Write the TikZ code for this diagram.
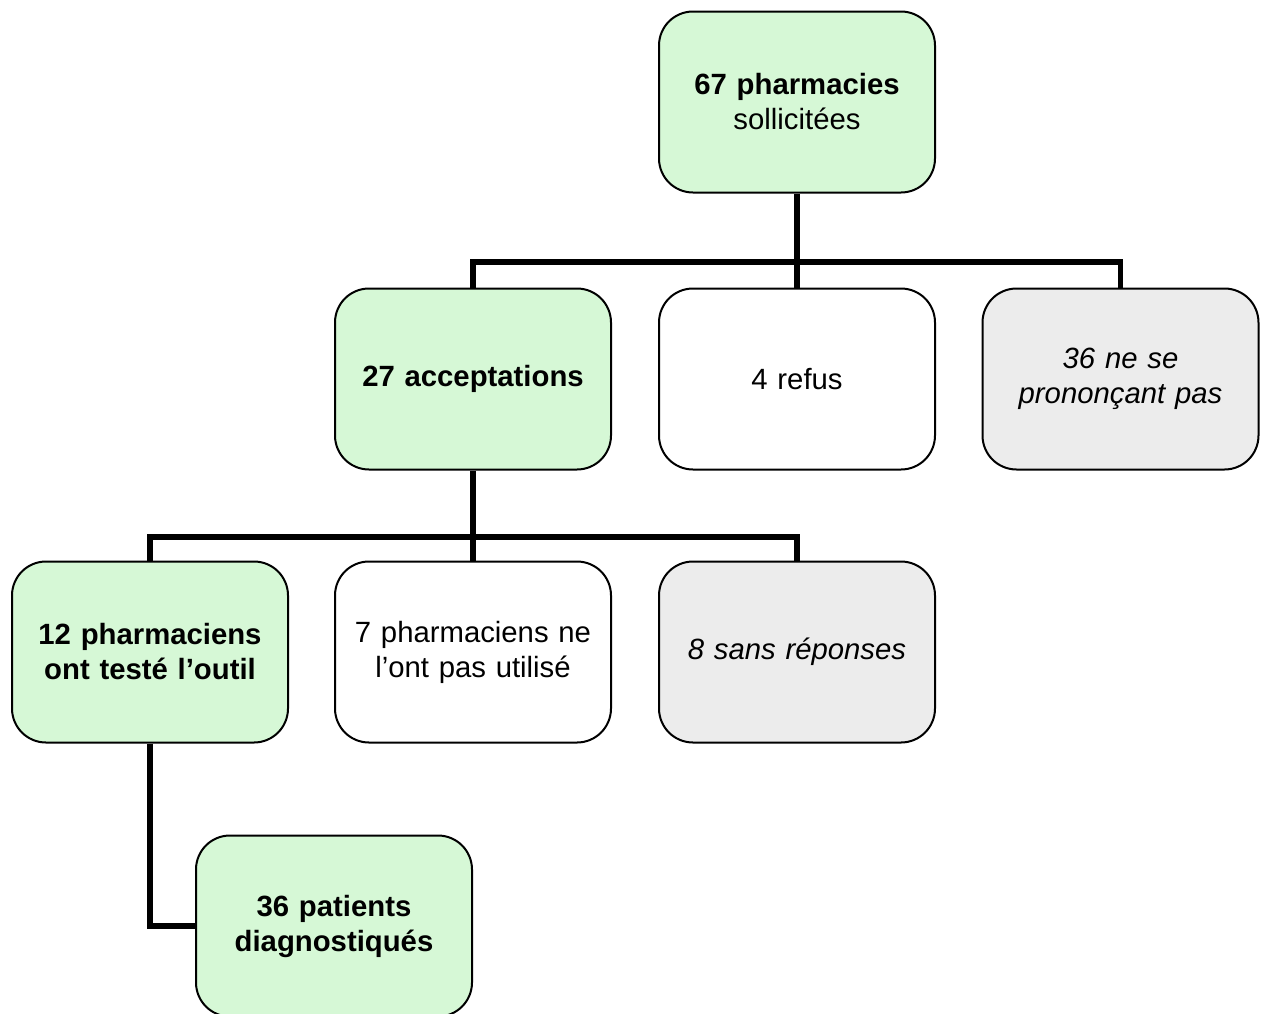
\documentclass[tikz,border=0pt]{standalone}
\usepackage{fontspec}
\setmainfont{Liberation Sans}
\definecolor{boxgreen}{RGB}{214,248,214}
\definecolor{boxgray}{RGB}{236,236,236}
\begin{document}
\begin{tikzpicture}[x=1pt,y=-1pt,
  box/.style={draw=black, line width=2pt, rounded corners=34pt, minimum width=276pt, minimum height=181pt, align=center, inner sep=2pt, font=\fontsize{29.3}{35}\selectfont, text width=266pt},
  greenbox/.style={box, fill=boxgreen},
  whitebox/.style={box, fill=white},
  graybox/.style={box, fill=boxgray},
  conn/.style={line width=5.5pt, line join=miter, line cap=butt}]
\useasboundingbox (0,0) rectangle (1262,1013);
\clip (0,0) rectangle (1262,1013);
\fill[fill=white] (0,0) rectangle (1262,1013);
\coordinate (j1) at (797,262);
\coordinate (j2) at (473,537);
\node[greenbox] (top) at (797,102) {\textbf{67 pharmacies}\\sollicitées};
\node[greenbox] (acc) at (473,379) {\textbf{27 acceptations}};
\node[whitebox] (ref) at (797,379) {4 refus};
\node[graybox] (ns) at (1120.5,379) {\textit{36 ne se}\\\textit{prononçant pas}};
\node[greenbox] (test) at (150,652) {\textbf{12 pharmaciens}\\\textbf{ont testé l’outil}};
\node[whitebox] (not) at (473,652) {7 pharmaciens ne\\l’ont pas utilisé};
\node[graybox] (sans) at (797,652) {\textit{8 sans réponses}};
\node[greenbox] (pat) at (334,926) {\textbf{36 patients}\\\textbf{diagnostiqués}};
\draw[conn] (top.south) -- (ref.north);
\draw[conn] (acc.north) -- (acc.north |- j1) -- (ns.north |- j1) -- (ns.north);
\draw[conn] (acc.south) -- (not.north);
\draw[conn] (test.north) -- (test.north |- j2) -- (sans.north |- j2) -- (sans.north);
\draw[conn] (test.south) |- (pat.west);
\end{tikzpicture}
\end{document}
